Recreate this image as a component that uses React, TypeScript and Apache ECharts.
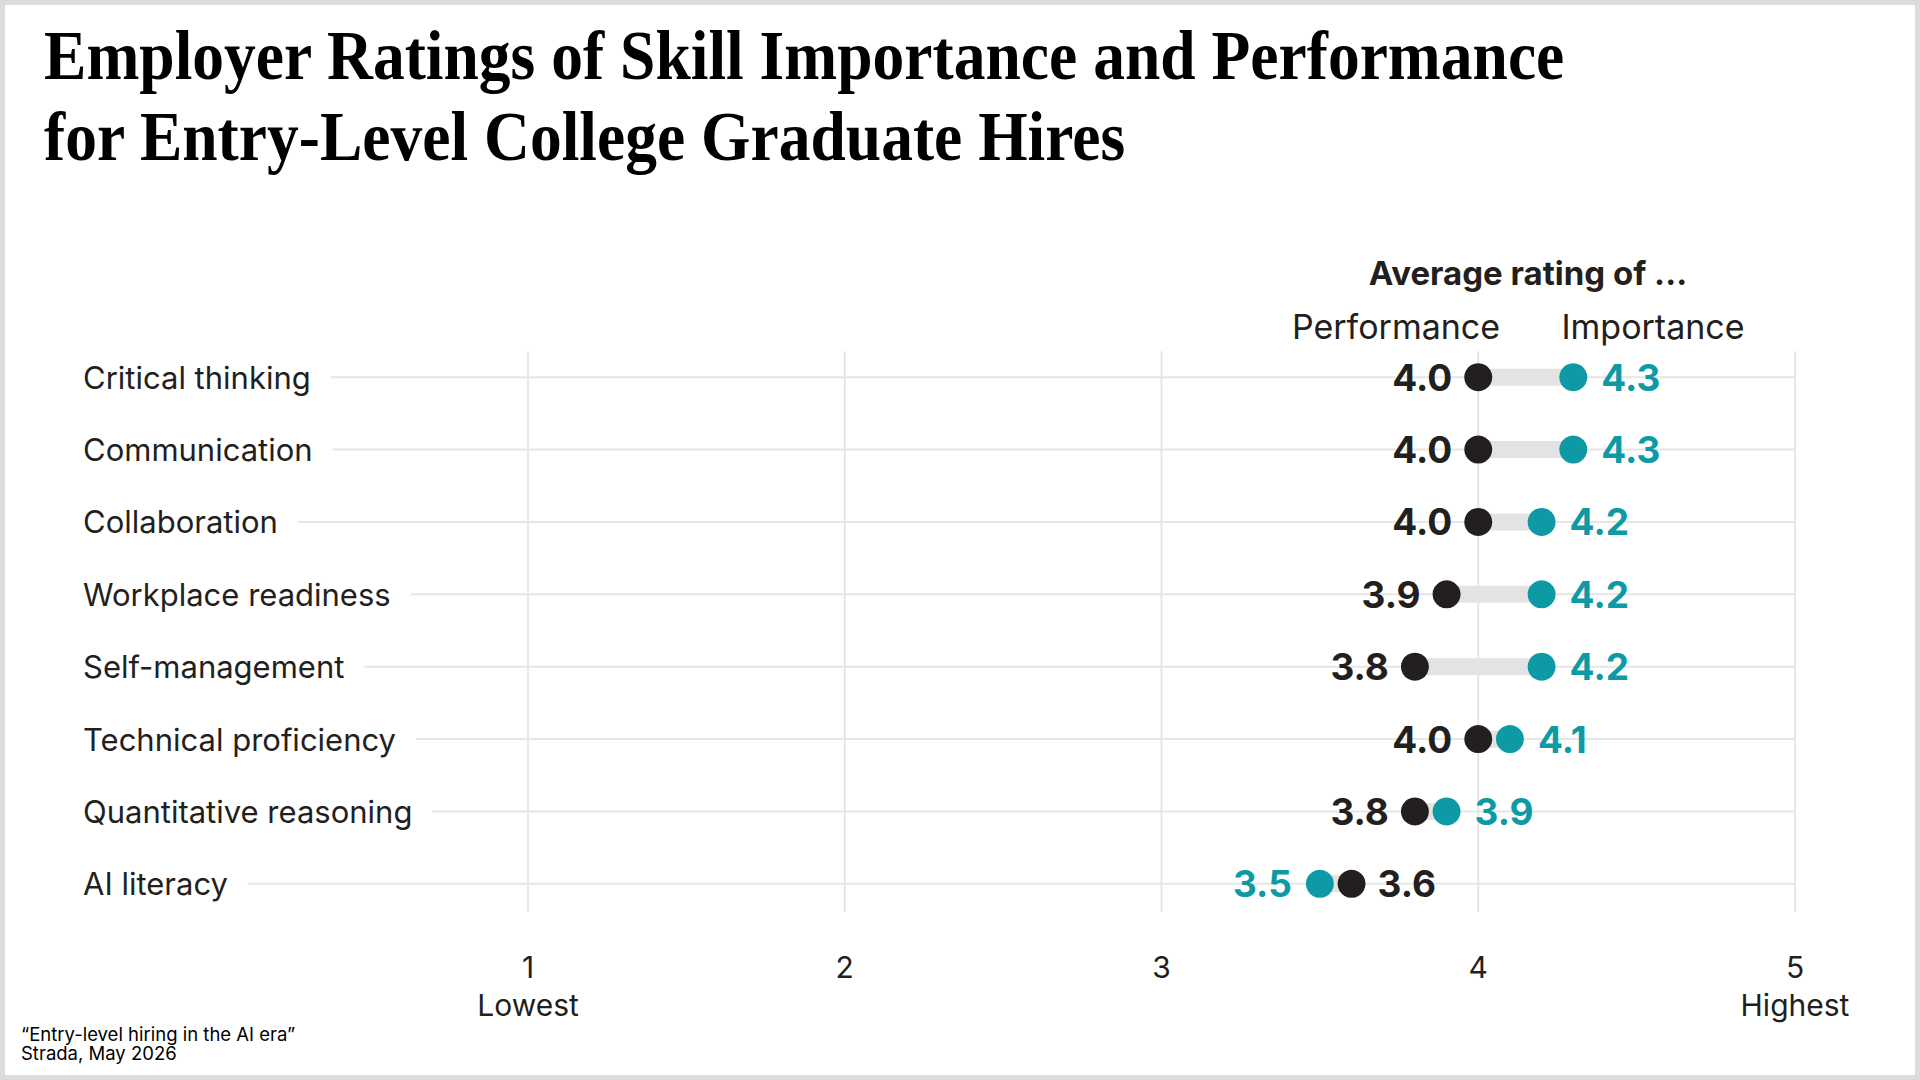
import React, { useEffect, useRef } from "react";
import * as echarts from "echarts";

// ---------- data ----------
const titleLines = [
  "Employer Ratings of Skill Importance and Performance",
  "for Entry-Level College Graduate Hires",
];
const headerText = "Average rating of ...";
const seriesNames = ["Performance", "Importance"];
const categories = [
  "Critical thinking",
  "Communication",
  "Collaboration",
  "Workplace readiness",
  "Self-management",
  "Technical proficiency",
  "Quantitative reasoning",
  "AI literacy",
];
const performance = [4.0, 4.0, 4.0, 3.9, 3.8, 4.0, 3.8, 3.6];
const importance = [4.3, 4.3, 4.2, 4.2, 4.2, 4.1, 3.9, 3.5];
const xTicks = [1, 2, 3, 4, 5];
const xTickNotes = ["Lowest", "", "", "", "Highest"];
const sourceLines = ["\u201cEntry-level hiring in the AI era\u201d", "Strada, May 2026"];

// ---------- style ----------
const INK = "#231f20";
const TEAL = "#0e9aa4";
const GRID = "#e6e6e6";
const BAR = "#e3e3e3";
const FONT = "Inter";
const CAT_SIZE = 31;
const LABEL_MARGIN = 445;
const TITLE_SIZE = 70;
const TITLE_WIDTH = 1521;

function measure(text: string, font: string): number {
  const c = document.createElement("canvas");
  const ctx = c.getContext("2d");
  if (!ctx) return text.length * 10;
  ctx.font = font;
  return ctx.measureText(text).width;
}

export default function App() {
  const ref = useRef<HTMLDivElement>(null);

  useEffect(() => {
    if (!ref.current) return;
    const chart = echarts.init(ref.current, null, { renderer: "svg" });

    const labelWidths = categories.map((c) => measure(c, `${CAT_SIZE}px ${FONT}`));
    const titleW = measure(titleLines[0], `bold ${TITLE_SIZE}px "Liberation Serif"`);
    const titleScale = TITLE_WIDTH / titleW;

    const option: any = {
      animation: false,
      backgroundColor: "#ffffff",
      textStyle: { fontFamily: FONT },
      grid: { left: 528, right: 125, top: 341, bottom: 160, containLabel: false },
      xAxis: {
        type: "value",
        min: xTicks[0],
        max: xTicks[xTicks.length - 1],
        interval: 1,
        axisLine: { show: false },
        axisTick: { show: false },
        splitLine: { show: false },
        axisLabel: {
          margin: 28,
          fontSize: 30,
          lineHeight: 38,
          color: INK,
          showMinLabel: true,
          showMaxLabel: true,
          formatter: (v: number) => {
            const i = xTicks.indexOf(v);
            const note = i >= 0 ? xTickNotes[i] : "";
            return note ? `${v}\n${note}` : `${v}`;
          },
        },
      },
      yAxis: {
        type: "category",
        inverse: true,
        data: categories,
        axisLine: { show: false },
        axisTick: { show: false },
        splitLine: { show: false },
        axisLabel: {
          margin: LABEL_MARGIN,
          align: "left",
          fontSize: CAT_SIZE,
          color: INK,
        },
      },
      series: [
        {
          type: "custom",
          name: "vgrid",
          silent: true,
          clip: false,
          z: 1,
          data: xTicks.map((t) => [t, categories[0]]),
          encode: { x: 0, y: 1 },
          renderItem: (params: any, api: any) => {
            const v = api.value(0);
            const p0 = api.coord([v, 0]);
            const p1 = api.coord([v, 1]);
            const pn = api.coord([v, categories.length - 1]);
            const band = p1[1] - p0[1];
            return {
              type: "line",
              shape: { x1: p0[0], y1: p0[1] - band * 0.36, x2: p0[0], y2: pn[1] + band * 0.39 },
              style: { stroke: GRID, lineWidth: 2 },
            };
          },
        },
        {
          type: "custom",
          name: "rows",
          silent: true,
          clip: false,
          z: 1,
          data: categories.map((c) => [xTicks[xTicks.length - 1], c]),
          encode: { x: 0, y: 1 },
          renderItem: (params: any, api: any) => {
            const i = params.dataIndex;
            const end = api.coord([xTicks[xTicks.length - 1], i]);
            const xStart = params.coordSys.x - LABEL_MARGIN + labelWidths[i] + 20;
            return {
              type: "line",
              shape: { x1: xStart, y1: end[1], x2: end[0], y2: end[1] },
              style: { stroke: GRID, lineWidth: 2 },
            };
          },
        },
        {
          type: "custom",
          name: "bars",
          silent: true,
          z: 2,
          data: categories.map((c, i) => [performance[i], importance[i], c]),
          encode: { x: [0, 1], y: 2 },
          renderItem: (params: any, api: any) => {
            const i = params.dataIndex;
            const a = api.coord([api.value(0), i]);
            const b = api.coord([api.value(1), i]);
            return {
              type: "line",
              shape: { x1: a[0], y1: a[1], x2: b[0], y2: b[1] },
              style: { stroke: BAR, lineWidth: 17 },
            };
          },
        },
        {
          type: "scatter",
          name: seriesNames[0],
          z: 3,
          symbolSize: 28,
          itemStyle: { color: INK, opacity: 1 },
          data: categories.map((c, i) => ({
            value: [performance[i], c],
            label: { position: performance[i] <= importance[i] ? "left" : "right" },
          })),
          label: {
            show: true,
            formatter: (p: any) => Number(p.value[0]).toFixed(1),
            fontSize: 37,
            fontWeight: "bold",
            color: INK,
            distance: 12,
          },
        },
        {
          type: "scatter",
          name: seriesNames[1],
          z: 4,
          symbolSize: 28,
          itemStyle: { color: TEAL, opacity: 1 },
          data: categories.map((c, i) => ({
            value: [importance[i], c],
            label: { position: importance[i] >= performance[i] ? "right" : "left" },
          })),
          label: {
            show: true,
            formatter: (p: any) => Number(p.value[0]).toFixed(1),
            fontSize: 37,
            fontWeight: "bold",
            color: TEAL,
            distance: 14,
          },
        },
      ],
      graphic: [
        {
          type: "rect",
          silent: true,
          z: 100,
          shape: { x: 2.5, y: 2.5, width: 1915, height: 1075 },
          style: { fill: "none", stroke: "#dcdcdc", lineWidth: 5 },
        },
        {
          type: "text",
          x: 44,
          y: 14,
          scaleX: titleScale,
          style: {
            text: titleLines.join("\n"),
            fontFamily: "Liberation Serif",
            fontWeight: "bold",
            fontSize: TITLE_SIZE,
            lineHeight: 81,
            fill: "#000000",
            verticalAlign: "top",
          },
        },
        {
          type: "text",
          x: 1528,
          y: 273,
          style: {
            text: headerText,
            fontFamily: FONT,
            fontWeight: "bold",
            fontSize: 33,
            fill: INK,
            align: "center",
            verticalAlign: "middle",
          },
        },
        {
          type: "text",
          x: 1396,
          y: 326,
          style: {
            text: seriesNames[0],
            fontFamily: FONT,
            fontSize: 34,
            fill: INK,
            align: "center",
            verticalAlign: "middle",
          },
        },
        {
          type: "text",
          x: 1653,
          y: 326,
          style: {
            text: seriesNames[1],
            fontFamily: FONT,
            fontSize: 34,
            fill: INK,
            align: "center",
            verticalAlign: "middle",
          },
        },
        {
          type: "text",
          x: 21,
          y: 1034,
          style: {
            text: sourceLines[0],
            fontFamily: FONT,
            fontSize: 18.5,
            fill: "#000000",
            verticalAlign: "middle",
          },
        },
        {
          type: "text",
          x: 21,
          y: 1053,
          style: {
            text: sourceLines[1],
            fontFamily: FONT,
            fontSize: 18.5,
            fill: "#000000",
            verticalAlign: "middle",
          },
        },
      ],
    };

    chart.setOption(option);
    return () => chart.dispose();
  }, []);

  return (
    <div
      ref={ref}
      style={{ position: "fixed", left: 0, top: 0, width: 1920, height: 1080, background: "#fff" }}
    />
  );
}
